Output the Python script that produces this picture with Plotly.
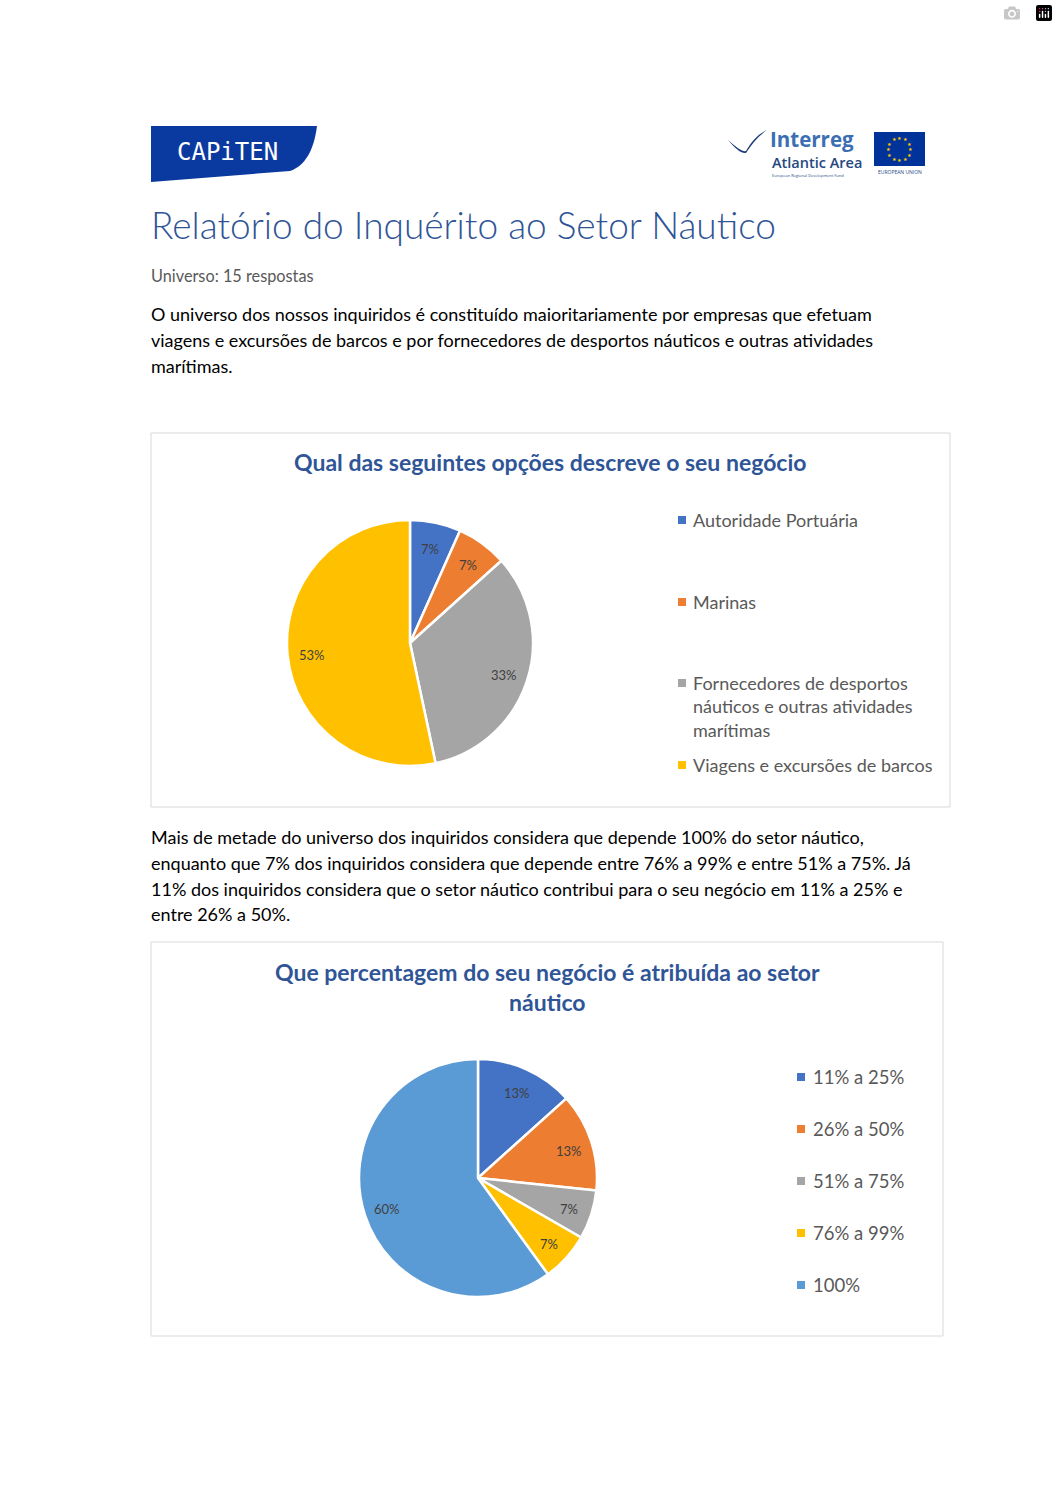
import plotly.graph_objects as go
import math

W, H = 1058, 1497

# ---------------- data ----------------
business_categories = ["Autoridade Portuária", "Marinas",
                       "Fornecedores de desportos náuticos e outras atividades marítimas",
                       "Viagens e excursões de barcos"]
business_counts = [1, 1, 5, 8]
business_colors = ["#4472C4", "#ED7D31", "#A5A5A5", "#FFC000"]
business_legend_text = ["Autoridade Portuária", "Marinas",
                        "Fornecedores de desportos<br>náuticos e outras atividades<br>marítimas",
                        "Viagens e excursões de barcos"]

share_categories = ["11% a 25%", "26% a 50%", "51% a 75%", "76% a 99%", "100%"]
share_counts = [2, 2, 1, 1, 9]
share_colors = ["#4472C4", "#ED7D31", "#A5A5A5", "#FFC000", "#5B9BD5"]

title_main = "Relatório do Inquérito ao Setor Náutico"
subtitle = "Universo: 15 respostas"
para1 = ["O universo dos nossos inquiridos é constituído maioritariamente por empresas que efetuam",
         "viagens e excursões de barcos e por fornecedores de desportos náuticos e outras atividades",
         "marítimas."]
para2 = ["Mais de metade do universo dos inquiridos considera que depende 100% do setor náutico,",
         "enquanto que 7% dos inquiridos considera que depende entre 76% a 99% e entre 51% a 75%. Já",
         "11% dos inquiridos considera que o setor náutico contribui para o seu negócio em 11% a 25% e",
         "entre 26% a 50%."]
chart1_title = "Qual das seguintes opções descreve o seu negócio"
chart2_title = "Que percentagem do seu negócio é atribuída ao setor<br>náutico"

FONT = "Lato"
TITLE_BLUE = "#2F5597"
LABEL_COLOR = "#404040"

PIE1 = (410, 643, 123)   # centre x, centre y, radius (page pixels)
PIE2 = (478, 1178, 119)

def dom(cx, cy, r):
    return dict(x=[(cx - r) / W, (cx + r) / W], y=[1 - (cy + r) / H, 1 - (cy - r) / H])

fig = go.Figure()

for cats, counts, cols, geo in [(business_categories, business_counts, business_colors, PIE1),
                                (share_categories, share_counts, share_colors, PIE2)]:
    fig.add_trace(go.Pie(
        labels=cats, values=counts, sort=False,
        direction="clockwise", rotation=0,
        marker=dict(colors=cols, line=dict(color="white", width=2.5)),
        textinfo="none",
        domain=dom(*geo), showlegend=False, hoverinfo="label+percent"))

shapes = []
ann = []

def text(x, y, s, size, color, bold=False, anchor="left", weight=None, fam=FONT, yanchor="middle"):
    f = dict(family=fam, size=size, color=color)
    if weight:
        f["weight"] = weight
    ann.append(dict(x=x, y=y, xref="x", yref="y", text=("<b>%s</b>" % s) if bold else s,
                    showarrow=False, xanchor=anchor, yanchor=yanchor,
                    align=anchor if anchor != "center" else "center",
                    font=f, borderpad=0))

# percentage data labels placed at 0.8 radius on each slice's mid-angle (Excel style)
def pie_labels(counts, geo):
    cx, cy, r = geo
    total = float(sum(counts))
    cum = 0.0
    for c in counts:
        mid = (cum + c / 2.0) / total * 2 * math.pi
        cum += c
        x = cx + 0.8 * r * math.sin(mid)
        y = cy - 0.8 * r * math.cos(mid) + 2
        text(x, y, "%d%%" % round(100 * c / total), 13, LABEL_COLOR, anchor="center")

pie_labels(business_counts, PIE1)
pie_labels(share_counts, PIE2)

# ---- CAPITEN logo ----
shapes.append(dict(type="path", xref="x", yref="y",
                   path="M151,126 L317,126 C314,150 305,166 290,171 L151,182 Z",
                   fillcolor="#0A3AA0", line=dict(width=0)))
text(227, 152, "CAPiTEN", 24, "white", anchor="center", fam="DejaVu Sans Mono")

# ---- Interreg logo ----
shapes.append(dict(type="path", xref="x", yref="y",
                   path="M728,140 C736,147 742,152 746,151 C752,141 758,134 767,130 C758,136 751,145 746,153 C741,154 735,148 728,140 Z",
                   fillcolor="#1E3F7A", line=dict(width=0)))
text(769, 139, "<b>Interreg</b>", 20.5, "#3C6EB4", anchor="left", fam="Open Sans")
text(771, 162, "Atlantic Area", 14.5, "#24487F", anchor="left", fam="Open Sans", weight=600)
text(771, 175, "European Regional Development Fund", 4, "#24487F", anchor="left", fam="Open Sans")
shapes.append(dict(type="rect", xref="x", yref="y", x0=874, x1=925, y0=132, y1=166,
                   fillcolor="#003399", line=dict(width=0)))
for k in range(12):
    a = 2 * math.pi * k / 12
    ann.append(dict(x=899.5 + 11 * math.cos(a), y=149 + 11 * math.sin(a), xref="x", yref="y",
                    text="★", showarrow=False, font=dict(size=5, color="#FFCC00")))
text(899.5, 172, "EUROPEAN UNION", 5, "#24487F", anchor="center", fam="Open Sans")

# ---- Headings and paragraphs ----
text(150, 224, title_main, 37, "#2F5496", anchor="left", weight=300)
text(150, 275, subtitle, 16.3, "#595959", anchor="left")
for i, line in enumerate(para1):
    text(150, 314 + 26 * i, line, 18, "#000000", anchor="left")
for i, line in enumerate(para2):
    text(150, 837 + 25.8 * i, line, 18, "#000000", anchor="left")

# ---- Chart 1 frame, title and legend ----
shapes.append(dict(type="rect", xref="x", yref="y", x0=151, x1=950, y0=433, y1=807,
                   line=dict(color="#D9D9D9", width=1), fillcolor="rgba(0,0,0,0)"))
text(550, 462, chart1_title, 23, TITLE_BLUE, bold=True, anchor="center")
leg1_y = [520, 602, 683, 765]
for lbl, col, yy in zip(business_legend_text, business_colors, leg1_y):
    shapes.append(dict(type="rect", xref="x", yref="y", x0=678, x1=686, y0=yy - 4, y1=yy + 4,
                       fillcolor=col, line=dict(width=0)))
    ann.append(dict(x=692, y=yy - 12, xref="x", yref="y", text=lbl, showarrow=False,
                    xanchor="left", yanchor="top", align="left", borderpad=0,
                    font=dict(family=FONT, size=18, color="#595959")))

# ---- Chart 2 frame, title and legend ----
shapes.append(dict(type="rect", xref="x", yref="y", x0=151, x1=943, y0=942, y1=1336,
                   line=dict(color="#D9D9D9", width=1), fillcolor="rgba(0,0,0,0)"))
ann.append(dict(x=547, y=987, xref="x", yref="y",
                text="<b>" + chart2_title.replace("<br>", "</b><br><b>") + "</b>", showarrow=False,
                xanchor="center", yanchor="middle", align="center", borderpad=0,
                font=dict(family=FONT, size=23, color=TITLE_BLUE)))
leg2_y = [1077, 1129, 1181, 1233, 1285]
for lbl, col, yy in zip(share_categories, share_colors, leg2_y):
    shapes.append(dict(type="rect", xref="x", yref="y", x0=797, x1=805, y0=yy - 4, y1=yy + 4,
                       fillcolor=col, line=dict(width=0)))
    text(812, yy, lbl, 18.5, "#595959", anchor="left")

fig.update_layout(
    width=W, height=H, margin=dict(l=0, r=0, t=0, b=0),
    paper_bgcolor="white", plot_bgcolor="white",
    xaxis=dict(range=[0, W], visible=False, fixedrange=True, domain=[0, 1]),
    yaxis=dict(range=[H, 0], visible=False, fixedrange=True, domain=[0, 1]),
    shapes=shapes, annotations=ann, showlegend=False,
    font=dict(family=FONT),
)

fig.write_html("out.html", post_script="document.body.style.margin='0';")
